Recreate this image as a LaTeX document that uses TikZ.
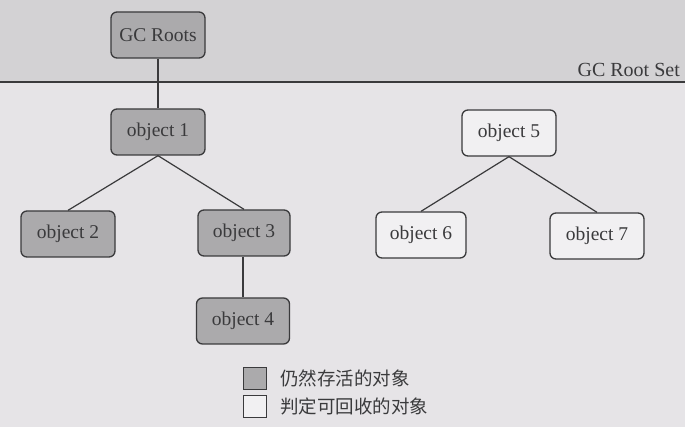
\documentclass[tikz,border=0pt]{standalone}
\usepackage{fontspec}
\setmainfont{Liberation Serif}
\newfontfamily\cjk{Noto Sans CJK SC}
\definecolor{bg}{HTML}{E6E4E7}
\definecolor{band}{HTML}{D3D2D4}
\definecolor{live}{HTML}{ABAAAC}
\definecolor{dead}{HTML}{F1F0F2}
\definecolor{ink}{HTML}{3A3A3C}
\tikzset{
  obj/.style={draw=ink, line width=1.3pt, rounded corners=6pt, minimum width=94pt, minimum height=46pt, inner sep=0pt, text=ink, font=\fontsize{19.5}{22}\selectfont},
  livebox/.style={obj, fill=live},
  deadbox/.style={obj, fill=dead},
  conn/.style={draw=ink, line width=1.2pt},
  legbox/.style={draw=ink, line width=1pt, minimum width=23pt, minimum height=22pt, inner sep=0pt},
  legtext/.style={anchor=west, text=ink, font=\cjk\fontsize{18.5}{21}\selectfont, inner sep=0pt}
}
\begin{document}
\begin{tikzpicture}[x=1pt,y=-1pt]
\useasboundingbox (0,0) rectangle (685,427);
\fill[bg] (0,0) rectangle (685,427);
\fill[band] (0,0) rectangle (685,82);
\coordinate (L) at (0,82);
\coordinate (R) at (685,82);
\draw[conn] (L) -- (R);
\node[anchor=east, text=ink, font=\fontsize{20}{22}\selectfont, inner sep=0pt] (set) at (680,70) {GC Root Set};

\node[livebox] (roots) at (158,35) {GC Roots};
\node[livebox] (o1) at (158,132) {object 1};
\node[livebox] (o2) at (68,234) {object 2};
\node[livebox, minimum width=92pt] (o3) at (244,233) {object 3};
\node[livebox, minimum width=93pt] (o4) at (243,321) {object 4};
\node[deadbox] (o5) at (509,133) {object 5};
\node[deadbox, minimum width=90pt] (o6) at (421,235) {object 6};
\node[deadbox] (o7) at (597,236) {object 7};

\draw[conn] (roots.south) -- (o1.north);
\draw[conn] (o1.south) -- (o2.north);
\draw[conn] (o1.south) -- (o3.north);
\draw[conn] (o4.north |- o3.south) -- (o4.north);
\draw[conn] (o5.south) -- (o6.north);
\draw[conn] (o5.south) -- (o7.north);

\node[legbox, fill=live] (k1) at (254.5,378) {};
\node[legbox, fill=dead] (k2) at (254.5,406) {};
\node[legtext] (t1) at (280,378) {仍然存活的对象};
\node[legtext] (t2) at (280,406) {判定可回收的对象};
\end{tikzpicture}
\end{document}
